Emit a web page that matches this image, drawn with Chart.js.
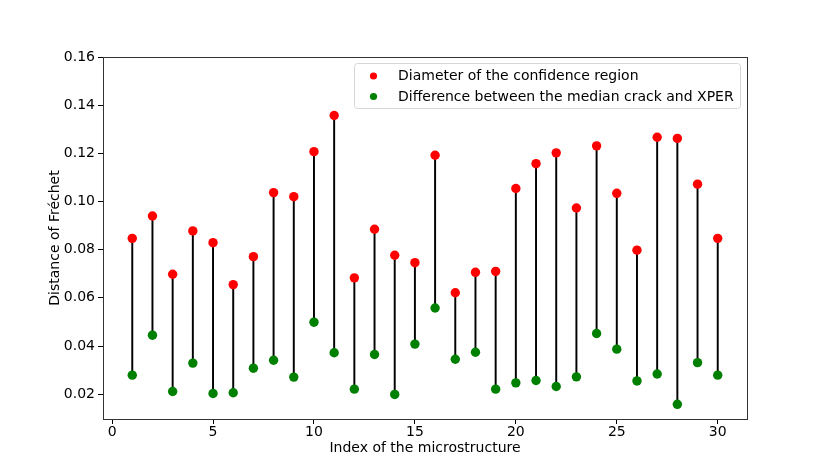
<!DOCTYPE html>
<html>
<head>
<meta charset="utf-8">
<script src="https://cdn.jsdelivr.net/npm/chart.js@4.4.0/dist/chart.umd.min.js"></script>
<style>
html,body{margin:0;padding:0;background:#fff;}
#wrap{width:830px;height:471px;position:relative;}
</style>
</head>
<body>
<div id="wrap"><canvas id="c" width="830" height="471"></canvas></div>
<script>
const indices = [1,2,3,4,5,6,7,8,9,10,11,12,13,14,15,16,17,18,19,20,21,22,23,24,25,26,27,28,29,30];
const diameter = [0.0847,0.0940,0.0698,0.0878,0.0829,0.0655,0.0771,0.1037,0.1020,0.1207,0.1357,0.0683,0.0885,0.0777,0.0746,
                  0.1192,0.0621,0.0706,0.0710,0.1054,0.1157,0.1202,0.0973,0.1231,0.1034,0.0798,0.1267,0.1262,0.1072,0.0847];
const difference = [0.0279,0.0445,0.0211,0.0329,0.0203,0.0206,0.0308,0.0341,0.0271,0.0499,0.0372,0.0221,0.0365,0.0199,0.0408,
                    0.0558,0.0345,0.0374,0.0221,0.0247,0.0257,0.0232,0.0272,0.0452,0.0387,0.0255,0.0284,0.0158,0.0331,0.0279];
const xTickValues = [0,5,10,15,20,25,30];
const yTickValues = [0.02,0.04,0.06,0.08,0.10,0.12,0.14,0.16];
const labelDiameter = 'Diameter of the confidence region';
const labelDifference = 'Difference between the median crack and XPER';
const xTitle = 'Index of the microstructure';
const yTitle = 'Distance of Fréchet';

const FONT = "'DejaVu Sans', sans-serif";

const frameLegend = {
  id: 'frameLegend',
  afterDraw(chart) {
    const ctx = chart.ctx;
    const a = chart.chartArea;
    ctx.save();
    ctx.strokeStyle = '#333';
    ctx.lineWidth = 1;
    ctx.strokeRect(Math.round(a.left)+0.5, Math.round(a.top)+0.5, Math.round(a.right-a.left), Math.round(a.bottom-a.top));
    // legend
    const bx = 354, by = 63, bw = 386, bh = 45, r = 3;
    ctx.globalAlpha = 0.8;
    ctx.fillStyle = '#fff';
    ctx.beginPath();
    ctx.roundRect(bx+0.5, by+0.5, bw, bh, r);
    ctx.fill();
    ctx.globalAlpha = 1;
    ctx.strokeStyle = '#d6d6d6';
    ctx.stroke();
    const items = chart.data.datasets.filter(d => d.type === 'scatter');
    ctx.font = '14px ' + FONT;
    ctx.textBaseline = 'middle';
    items.forEach((d, i) => {
      const y = 76 + i * 20.5;
      ctx.fillStyle = d.backgroundColor;
      ctx.beginPath();
      ctx.arc(373.5, y, 3.6, 0, Math.PI*2);
      ctx.fill();
      ctx.fillStyle = '#000';
      ctx.fillText(d.label, 398, y + 0.5);
    });
    ctx.restore();
  }
};

new Chart(document.getElementById('c'), {
  type: 'bar',
  data: {
    datasets: [
      {
        type: 'scatter',
        label: labelDiameter,
        data: indices.map((x, i) => ({x, y: diameter[i]})),
        backgroundColor: '#ff0000',
        borderColor: '#ff0000',
        pointRadius: 4.7,
        borderWidth: 0,
        order: 0
      },
      {
        type: 'scatter',
        label: labelDifference,
        data: indices.map((x, i) => ({x, y: difference[i]})),
        backgroundColor: '#008000',
        borderColor: '#008000',
        pointRadius: 4.7,
        borderWidth: 0,
        order: 1
      },
      {
        type: 'bar',
        label: 'segments',
        data: indices.map((x, i) => ({x, y: [difference[i], diameter[i]]})),
        backgroundColor: '#000',
        borderWidth: 0,
        barThickness: 1.3,
        grouped: false,
        order: 2
      }
    ]
  },
  options: {
    responsive: false,
    animation: false,
    devicePixelRatio: 1,
    layout: { padding: { left: 0, right: 83, top: 57, bottom: 0 } },
    plugins: {
      legend: { display: false },
      tooltip: { enabled: false }
    },
    scales: {
      x: {
        type: 'linear',
        min: -0.45,
        max: 31.45,
        offset: false,
        afterFit(s) { s.height = 52; },
        afterBuildTicks(s) { s.ticks = xTickValues.map(v => ({value: v})); },
        grid: { display: true, offset: false, drawOnChartArea: false, drawTicks: true, tickLength: 5, tickColor: '#000', tickWidth: 1 },
        border: { display: false },
        ticks: { color: '#000', font: { family: FONT, size: 14 }, padding: 0, maxRotation: 0, callback: v => String(v) },
        title: { display: true, text: xTitle, color: '#000', font: { family: FONT, size: 14 }, padding: { top: 0, bottom: 14.5 } }
      },
      y: {
        type: 'linear',
        min: 0.0097,
        max: 0.16,
        afterFit(s) { s.width = 103; },
        afterBuildTicks(s) { s.ticks = yTickValues.map(v => ({value: v})); },
        grid: { display: true, offset: false, drawOnChartArea: false, drawTicks: true, tickLength: 5, tickColor: '#000', tickWidth: 1 },
        border: { display: false },
        ticks: { color: '#000', font: { family: FONT, size: 14 }, padding: 3, callback: v => v.toFixed(2) },
        title: { display: true, text: yTitle, color: '#000', font: { family: FONT, size: 14 }, padding: { top: 46.5, bottom: 0 } }
      }
    }
  },
  plugins: [frameLegend]
});
</script>
</body>
</html>
